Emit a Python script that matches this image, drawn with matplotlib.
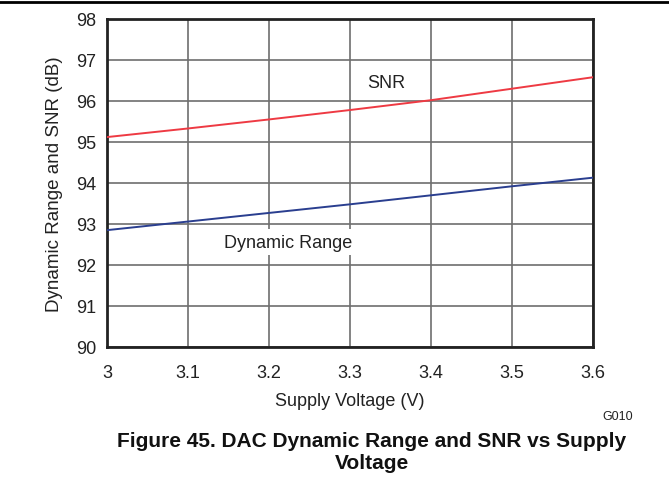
import matplotlib
matplotlib.use("Agg")
import matplotlib.pyplot as plt

plt.rcParams['font.family'] = ['Liberation Sans', 'DejaVu Sans']

voltage = [3.0, 3.1, 3.2, 3.3, 3.4, 3.5, 3.6]
snr = [95.12, 95.33, 95.55, 95.78, 96.02, 96.30, 96.58]
dyn_range = [92.85, 93.06, 93.27, 93.48, 93.70, 93.92, 94.13]
xticks = [3, 3.1, 3.2, 3.3, 3.4, 3.5, 3.6]
xticklabels = ['3', '3.1', '3.2', '3.3', '3.4', '3.5', '3.6']
yticks = [90, 91, 92, 93, 94, 95, 96, 97, 98]

fig = plt.figure(figsize=(6.69, 4.81), dpi=100)
ax = fig.add_axes([107/669, 1-348/481, (593-107)/669, (348-20)/481])

ax.plot(voltage, snr, color='#ee3a43', lw=1.4, zorder=3)
ax.plot(voltage, dyn_range, color='#2a3e8f', lw=1.4, zorder=3)

ax.set_xlim(3, 3.6)
ax.set_ylim(90, 98)
ax.set_xticks(xticks)
ax.set_xticklabels(xticklabels)
ax.set_yticks(yticks)
ax.tick_params(length=0, labelsize=13, colors='#222222')
ax.tick_params(axis='x', pad=12)
ax.tick_params(axis='y', pad=8)
ax.grid(True, color='#6e6e6e', lw=1.2)
ax.set_axisbelow(True)
for s in ax.spines.values():
    s.set_linewidth(2)
    s.set_color('#222222')

ax.set_xlabel('Supply Voltage (V)', fontsize=13, labelpad=8, color='#222222')
ax.set_ylabel('Dynamic Range and SNR (dB)', fontsize=13.5, labelpad=9, color='#222222')

ax.text(3.345, 96.45, 'SNR', fontsize=13, ha='center', va='center', color='#222222')
ax.text(3.2235, 92.56, 'Dynamic Range', fontsize=13, ha='center', va='center', color='#222222',
        bbox=dict(facecolor='white', edgecolor='none', pad=3), zorder=4)

fig.text(618/669, 1-417/481, 'G010', fontsize=9, ha='center', va='center', color='#222222')
fig.text(372/669, 1-453/481, 'Figure 45. DAC Dynamic Range and SNR vs Supply\nVoltage',
         fontsize=15, fontweight='bold', ha='center', va='center', linespacing=1.2, color='#111111')

fig.add_artist(plt.Line2D([0, 1], [1-3/481, 1-3/481], color='black', lw=2))

fig.savefig('out.png', dpi=100)
